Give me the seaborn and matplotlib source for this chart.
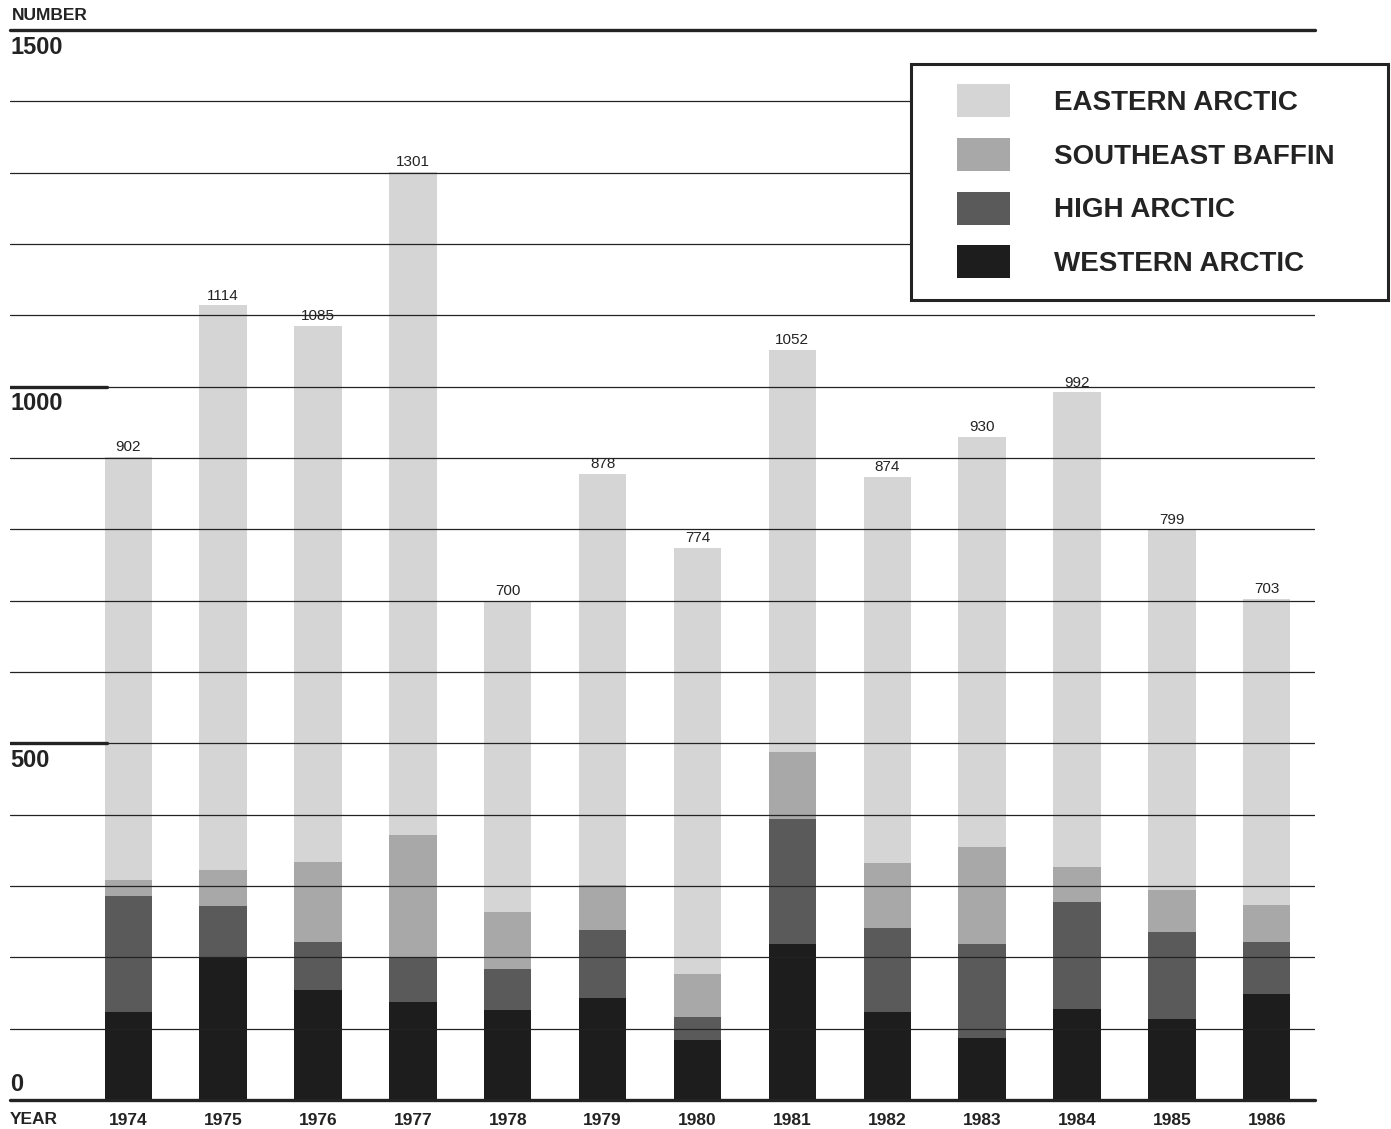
import matplotlib
matplotlib.use("Agg")
import matplotlib.pyplot as plt
import matplotlib.transforms as mtransforms
from matplotlib.patches import Patch, Rectangle
import numpy as np
import seaborn as sns

# data (number per year, by region)
years = ["1974", "1975", "1976", "1977", "1978", "1979", "1980",
         "1981", "1982", "1983", "1984", "1985", "1986"]
totals = [902, 1114, 1085, 1301, 700, 878, 774, 1052, 874, 930, 992, 799, 703]
western_arctic = [123, 200, 154, 137, 126, 143, 84, 218, 123, 87, 127, 114, 148]
high_arctic = [163, 72, 68, 64, 58, 96, 33, 176, 118, 132, 151, 121, 73]
southeast_baffin = [23, 51, 112, 170, 80, 62, 59, 94, 91, 135, 49, 60, 52]
# eastern arctic = whatever is left of the total
eastern_arctic = [t - w - h - s for t, w, h, s in
                  zip(totals, western_arctic, high_arctic, southeast_baffin)]

region_names = ["EASTERN ARCTIC", "SOUTHEAST BAFFIN", "HIGH ARCTIC", "WESTERN ARCTIC"]
region_colors = ["#d5d5d5", "#a8a8a8", "#5a5a5a", "#1d1d1d"]
y_labels = ["0", "500", "1000", "1500"]

W, H = 1391, 1129
sns.set_style("white")
plt.rcParams["font.family"] = ["Liberation Sans", "DejaVu Sans"]
ink = "#232323"

fig = plt.figure(figsize=(W / 100, H / 100), dpi=100)
ax = fig.add_axes([10 / W, (H - 1100) / H, 1305 / W, 1070 / H])

# stacked bars: bottom-up order is western, high, southeast, eastern
layers = [western_arctic, high_arctic, southeast_baffin, eastern_arctic]
layer_colors = region_colors[::-1]
cum = np.cumsum(np.array(layers), axis=0)
# draw cumulative heights from the top layer down so lower ones cover them
for i in range(3, -1, -1):
    sns.barplot(x=years, y=cum[i], color=layer_colors[i], width=0.5,
                saturation=1, errorbar=None, linewidth=0, ax=ax, zorder=1)

ax.set_xlim(-1.247, 12.509)
ax.set_ylim(0, 1500)
for s in ax.spines.values():
    s.set_visible(False)

# thin rules every 100, drawn over the bars
ax.set_yticks(range(0, 1501, 100))
ax.yaxis.grid(True, color=ink, linewidth=0.9, zorder=3)
ax.set_axisbelow(False)
ax.tick_params(axis="y", left=False, labelleft=False)
ax.axhline(0, color=ink, linewidth=2.4, zorder=4, clip_on=False)
ax.axhline(1500, color=ink, linewidth=2.4, zorder=4, clip_on=False)
for v in (500, 1000):
    ax.axhline(v, xmin=0, xmax=0.0745, color=ink, linewidth=2.4, zorder=4)

trans = mtransforms.blended_transform_factory(ax.transAxes, ax.transData)
for lab in y_labels:
    v = int(lab)
    if v == 0:
        ax.annotate(lab, (0, v), xycoords=trans, xytext=(0, 3), textcoords="offset points",
                    ha="left", va="bottom", fontsize=17, fontweight="bold", color=ink)
    else:
        ax.annotate(lab, (0, v), xycoords=trans, xytext=(0, -4), textcoords="offset points",
                    ha="left", va="top", fontsize=17, fontweight="bold", color=ink)

ax.set_xlabel("")
ax.set_ylabel("")
ax.tick_params(axis="x", bottom=False, pad=6)
for t in ax.get_xticklabels():
    t.set_fontsize(12.5)
    t.set_fontweight("bold")
    t.set_color(ink)

# totals above bars
ax.bar_label(ax.containers[0], labels=[str(t) for t in totals], padding=2,
             fontsize=11, color=ink)

fig.text(12 / W, 1 - 8 / H, "NUMBER", ha="left", va="top", fontsize=12.5,
         fontweight="bold", color=ink)
fig.text(10 / W, 1 - 1112 / H, "YEAR", ha="left", va="top", fontsize=12.5,
         fontweight="bold", color=ink)

# legend box
fig.patches.append(Rectangle((911 / W, (H - 300) / H), 477 / W, 236 / H,
                             transform=fig.transFigure, facecolor="white",
                             edgecolor=ink, linewidth=2.2, zorder=5))
handles = [Patch(facecolor=c, edgecolor="none") for c in region_colors]
leg = fig.legend(handles, region_names, loc="upper left",
                 bbox_to_anchor=(957 / W, 1 - 84 / H), frameon=False,
                 borderpad=0, borderaxespad=0, handlelength=1.9, handleheight=1.45,
                 labelspacing=0.75, handletextpad=1.6,
                 prop={"family": ["Liberation Sans", "DejaVu Sans"],
                       "weight": "bold", "size": 20})
leg.set_zorder(6)
for t in leg.get_texts():
    t.set_color(ink)

fig.savefig("out.png", dpi=100, facecolor="white")
